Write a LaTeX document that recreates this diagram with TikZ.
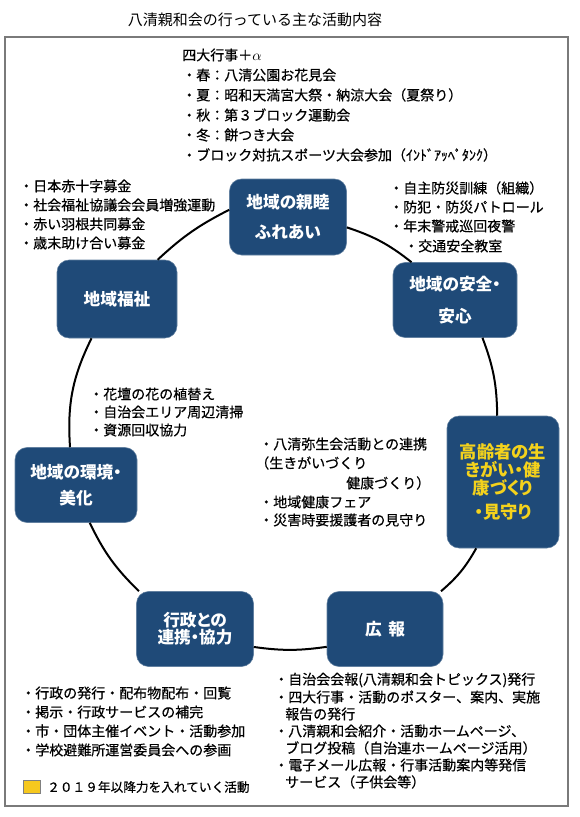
\documentclass[tikz,border=0pt]{standalone}
\usepackage{fontspec}
\setmainfont{Noto Sans CJK JP}
\newfontfamily\listfont{Noto Sans CJK JP}[FakeBold=0.5]
\newfontfamily\boxfont{Noto Sans CJK JP}[RawFeature=+palt]
\usetikzlibrary{positioning}
\definecolor{Navy}{HTML}{1F4A78}
\definecolor{Gold}{HTML}{F4D21C}
\definecolor{KeyGold}{HTML}{F6C81E}
\definecolor{FrameGray}{HTML}{7A7A7A}

\tikzset{
  activity/.style={fill=Navy, draw=Navy!70!white, rounded corners=9pt, text=white,
    font=\boxfont\fontsize{12.5}{15}\selectfont\bfseries, align=center, inner sep=0pt},
  item/.style={anchor=west, inner sep=0pt, font=\listfont\fontsize{10.5}{12}\selectfont},
  link/.style={line width=1.5pt, bend left=#1},
  link/.default=10,
}

\begin{document}
\begin{tikzpicture}[x=0.75pt,y=-0.75pt]
  \useasboundingbox (0,0) rectangle (580,817);
  \fill[white] (0,0) rectangle (580,817);
  \node[font=\fontsize{11.25}{13}\selectfont] (title) at (255,20) {八清親和会の行っている主な活動内容};
  \draw[FrameGray, line width=0.8pt] (5,37) rectangle (568,806);

  % activity boxes
  \node[activity, minimum width=87.75pt, minimum height=57pt] (friend) at (288,217) {地域の親睦\\[7.5pt]ふれあい};
  \node[activity, minimum width=93pt, minimum height=56.25pt] (safety) at (455,300) {地域の安全・\\[9.5pt]安心};
  \node[activity, minimum width=90pt, minimum height=58.5pt] (welfare) at (117,299) {地域福祉};
  \node[activity, minimum width=84pt, minimum height=99pt, text=Gold,
        font=\boxfont\fontsize{13}{13.5}\selectfont\bfseries] (elder) at (503,482) {高齢者の生\\きがい・健\\康づくり\\[5pt]・見守り};
  \node[activity, minimum width=91.5pt, minimum height=56.25pt] (env) at (76,485) {地域の環境・\\[4.5pt]美化};
  \node[activity, minimum width=87.75pt, minimum height=56.25pt] (admin) at (195,629) {行政との\\[-2pt]連携・協力};
  \node[activity, minimum width=87pt, minimum height=56.25pt] (pr) at (385,629) {広\hspace{0.4em}報};

  % ring of connectors
  \foreach \a/\b/\bb in {friend.-10/safety.139/10, safety.-54/elder.95/10, elder.-112/pr.34/10,
      pr.197/admin.-17/8, admin.146/env.-70/10, env.99/welfare.-123/15, welfare.44/friend.173/8}
    \draw[link=\bb] (\a) to (\b);

  % four big events
  \node[item] (ev0) at (182,55) {四大行事＋$\alpha$};
  \foreach \t [count=\i] in {春：八清公園お花見会, 夏：昭和天満宮大祭・納涼大会（夏祭り）,
      秋：第３ブロック運動会, 冬：餅つき大会, ブロック対抗スポーツ大会参加（ｲﾝﾄﾞｱｯﾍﾟﾀﾝｸ）}
    \node[item] (ev\i) at (182,{55+20*\i}) {・\t};

  % welfare
  \foreach \t [count=\i] in {日本赤十字募金, 社会福祉協議会会員増強運動, 赤い羽根共同募金, 歳末助け合い募金}
    \node[item] (wel\i) at (19,{186+19*(\i-1)}) {・\t};

  % safety
  \foreach \t [count=\i] in {自主防災訓練（組織）, 防犯・防災パトロール, 年末警戒巡回夜警}
    \node[item] (saf\i) at (389,{188+19*(\i-1)}) {・\t};
  \node[item] (saf4) at (404,246) {・交通安全教室};

  % environment
  \foreach \t [count=\i] in {花壇の花の植替え, 自治会エリア周辺清掃, 資源回収協力}
    \node[item] (env\i) at (89,{394+18*(\i-1)}) {・\t};

  % elderly
  \node[item] (eld1) at (259,444) {・八清弥生会活動との連携};
  \node[item] (eld2) at (255,463) {（生きがいづくり};
  \node[item] (eld3) at (346,483) {健康づくり）};
  \node[item] (eld4) at (259,502) {・地域健康フェア};
  \node[item] (eld5) at (259,520) {・災害時要援護者の見守り};

  % administration
  \foreach \t [count=\i] in {行政の発行・配布物配布・回覧, 掲示・行政サービスの補完,
      市・団体主催イベント・活動参加, 学校避難所運営委員会への参画}
    \node[item] (adm\i) at (21,{693+19*(\i-1)}) {・\t};

  % public relations
  \foreach \x/\t [count=\i] in {274/・自治会会報(八清親和会トピックス)発行, 274/・四大行事・活動のポスター、案内、実施,
      285/報告の発行, 274/・八清親和会紹介・活動ホームページ、, 285/ブログ投稿（自治連ホームページ活用）,
      274/・電子メール広報・行事活動案内等発信, 285/サービス（子供会等）}
    \node[item] (pub\i) at (\x,{680+17*(\i-1)}) {\t};

  % legend
  \node[draw=gray, fill=KeyGold, minimum width=12.75pt, minimum height=9.75pt, inner sep=0pt] (key) at (31.5,786.5) {};
  \node[item, font=\listfont\fontsize{9.5}{11}\selectfont] (keytext) at (47,787) {２０１９年以降力を入れていく活動};
\end{tikzpicture}
\end{document}
